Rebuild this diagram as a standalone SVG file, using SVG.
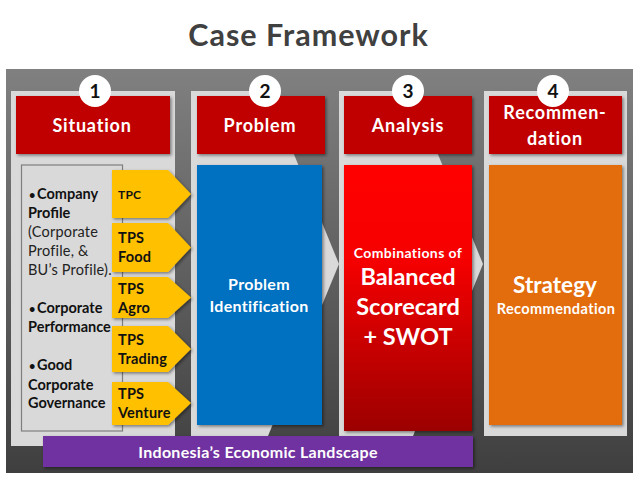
<svg xmlns="http://www.w3.org/2000/svg" width="638" height="479" viewBox="0 0 638 479">
<style>
text{font-family:Lato,"Liberation Sans",sans-serif;font-weight:700}
.w{fill:#fff;text-anchor:middle}
.h{font-size:18px;letter-spacing:.8px}
.k{fill:#111;font-size:14.500px}
.b{font-size:11px}
.n{font-weight:400;fill:#222;letter-spacing:.2px}
.y{fill:#111;font-size:14.500px;letter-spacing:.2px}
.c{fill:#fff}
.num{fill:#111;font-size:19px;text-anchor:middle}
.hd{fill:#c00000;filter:url(#s)}
.pan{fill:#d9d9d9}
.ar{fill:#ffc000;filter:url(#s)}
</style>
<defs>
<linearGradient id="bg" x1="0" y1="0" x2="0" y2="1"><stop offset="0" stop-color="#808080"/><stop offset="1" stop-color="#3f3f3f"/></linearGradient>
<linearGradient id="rd" x1="0" y1="0" x2="0" y2="1"><stop offset="0" stop-color="#ff0000"/><stop offset=".35" stop-color="#f60000"/><stop offset="1" stop-color="#9c0000"/></linearGradient>
<filter id="s" x="-10%" y="-10%" width="125%" height="125%"><feDropShadow dx="1.5" dy="1.5" stdDeviation="1.5" flood-color="#000" flood-opacity=".45"/></filter>
</defs>
<text x="308.500" y="46" text-anchor="middle" font-size="30.500" letter-spacing="1" fill="#404040">Case Framework</text>
<rect x="6" y="69" width="627" height="404" fill="url(#bg)"/>
<g id="panel1"><rect class="pan" x="11" y="91" width="164" height="355"/><rect class="hd" x="16" y="96" width="154" height="58"/><text class="w h" x="92" y="132">Situation</text></g>
<g id="panel2"><path class="pan" d="M191 91H268L339 264 268 436H191Z"/><rect class="hd" x="197" y="96" width="128" height="58"/><rect x="197" y="165" width="125" height="260" fill="#0070c0" filter="url(#s)"/><text class="w h" x="260" y="132">Problem</text><text class="w" x="259" y="290" font-size="16" letter-spacing=".3">Problem</text><text class="w" x="259" y="312" font-size="16" letter-spacing=".3">Identification</text></g>
<g id="panel3"><path class="pan" d="M339 91H412L483 264 413 436H339Z"/><rect class="hd" x="344" y="96" width="128" height="58"/><rect x="344" y="165" width="128" height="266" fill="url(#rd)" filter="url(#s)"/><text class="w h" x="408" y="132">Analysis</text><text class="w" x="408" y="258" font-size="14" letter-spacing=".4">Combinations of</text><text class="w" x="408" y="285" font-size="23.500">Balanced</text><text class="w" x="408" y="315" font-size="23.500">Scorecard</text><text class="w" x="408" y="345" font-size="23.500">+ SWOT</text></g>
<g id="panel4"><rect class="pan" x="484" y="91" width="143" height="345"/><rect class="hd" x="489" y="96" width="133" height="58"/><rect x="489" y="165" width="133" height="260" fill="#e36c09" filter="url(#s)"/><text class="w h" x="555" y="119">Recommen-</text><text class="w h" x="555" y="145">dation</text><text class="w" x="555" y="293" font-size="22.500">Strategy</text><text class="w" x="556" y="314" font-size="14.500" letter-spacing=".4">Recommendation</text></g>
<g id="textbox"><rect x="21.500" y="165" width="101" height="266" fill="#d9d9d9" stroke="#7f7f7f" stroke-width="1.200"/>
<text class="k"><tspan class="b" x="29" y="199">• </tspan><tspan x="37" y="199">Company</tspan> <tspan x="28" y="218">Profile</tspan> <tspan class="n" x="28" y="237">(Corporate</tspan> <tspan class="n" x="28" y="256">Profile, &amp;</tspan> <tspan class="n" x="28" y="275">BU’s Profile).</tspan> <tspan class="b" x="29" y="313">• </tspan><tspan x="37" y="313">Corporate</tspan> <tspan x="28" y="332">Performance</tspan> <tspan class="b" x="29" y="370">• </tspan><tspan x="37" y="370">Good</tspan> <tspan x="28" y="390">Corporate</tspan> <tspan x="28" y="408">Governance</tspan></text></g>
<g id="tpc"><path class="ar" d="M112 170H168L191 194 168 218H112Z"/><text class="y" x="118" y="199" style="font-size:12px">TPC</text></g>
<g id="tps-food"><path class="ar" d="M112 223H168L191 247.500 168 272H112Z"/><text class="y" x="118" y="243">TPS</text><text class="y" x="118" y="262">Food</text></g>
<g id="tps-agro"><path class="ar" d="M112 277H168L191 297.500 168 318H112Z"/><text class="y" x="118" y="294">TPS</text><text class="y" x="118" y="313">Agro</text></g>
<g id="tps-trading"><path class="ar" d="M112 326H168L191 349 168 372H112Z"/><text class="y" x="118" y="345">TPS</text><text class="y" x="118" y="364">Trading</text></g>
<g id="tps-venture"><path class="ar" d="M112 382H168L191 403 168 425H112Z"/><text class="y" x="118" y="399">TPS</text><text class="y" x="118" y="418">Venture</text></g>
<g id="landscape"><rect x="43" y="436" width="430" height="31" fill="#7030a0" filter="url(#s)"/><text class="w" x="258" y="458" font-size="16" letter-spacing=".3">Indonesia’s Economic Landscape</text></g>
<g id="num1"><circle cx="95" cy="91" r="16" class="c"/><text class="num" x="95" y="98">1</text></g>
<g id="num2"><circle cx="265" cy="91" r="16" class="c"/><text class="num" x="265" y="98">2</text></g>
<g id="num3"><circle cx="408" cy="91" r="16" class="c"/><text class="num" x="408" y="98">3</text></g>
<g id="num4"><circle cx="553" cy="91" r="16" class="c"/><text class="num" x="553" y="98">4</text></g>
<g id="connectors"/>
</svg>
